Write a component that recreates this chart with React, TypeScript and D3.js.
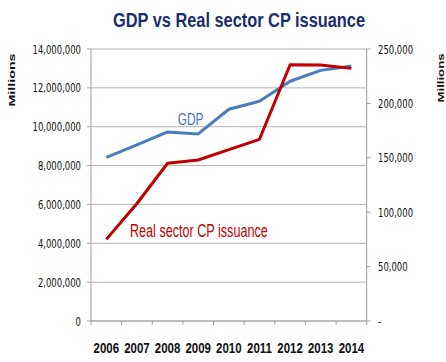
import React from 'react';
import * as d3 from 'd3';

const years = ['2006', '2007', '2008', '2009', '2010', '2011', '2012', '2013', '2014'];
const gdp = [8420000, 9070000, 9730000, 9630000, 10900000, 11310000, 12340000, 12900000, 13130000];
const cp = [75000, 108000, 145000, 148000, 157500, 167000, 235500, 235300, 232200];
const leftTicks = [0, 2000000, 4000000, 6000000, 8000000, 10000000, 12000000, 14000000];
const rightTicks = [0, 50000, 100000, 150000, 200000, 250000];

const W = 446, H = 362;
const FONT = '"Liberation Sans", Arial, sans-serif';
const TFONT = '"DejaVu Sans", Verdana, sans-serif';

function SText({ x, y, sx = 0.77, font = FONT, children, ...rest }: any) {
  return (
    <g transform={`translate(${x},${y}) scale(${sx},1)`}>
      <text x={0} y={0} fontFamily={font} {...rest}>{children}</text>
    </g>
  );
}

export default function App() {
  const left = 91, right = 366.7, top = 49, bottom = 321;
  const x = d3.scaleBand<string>().domain(years).range([left, right]).padding(0);
  const bw = x.bandwidth();
  const cx = (y: string) => (x(y) as number) + bw / 2;
  const yL = d3.scaleLinear().domain([0, 14000000]).range([bottom, top]);
  const yR = d3.scaleLinear().domain([0, 250000]).range([bottom, top]);
  const fmt = d3.format(',');

  const gdpLine = d3.line<number>().x((_, i) => cx(years[i])).y(d => yL(d))(gdp) as string;
  const cpLine = d3.line<number>().x((_, i) => cx(years[i])).y(d => yR(d))(cp) as string;

  const grid = '#b3b3b3';
  const axis = '#a0a0a0';

  return (
    <svg width={W} height={H} style={{ position: 'absolute', left: 0, top: 0, background: '#fff' }}>
      <rect x={0} y={0} width={W} height={H} fill="#fff" />
      <text x={113} y={27} fontFamily={FONT} fontSize={19.5} fontWeight="bold" fill="#1c2e6e"
        textLength={252} lengthAdjust="spacingAndGlyphs">GDP vs Real sector CP issuance</text>

      {leftTicks.map(t => (
        <g key={'l' + t}>
          <line x1={left} x2={right} y1={yL(t)} y2={yL(t)} stroke={grid} strokeWidth={1} />
          <line x1={left - 4} x2={left} y1={yL(t)} y2={yL(t)} stroke={axis} strokeWidth={1} />
          <SText x={81} y={yL(t) + 4.5} sx={0.69} font={TFONT} fontSize={12.3} textAnchor="end" fill="#111">{fmt(t)}</SText>
        </g>
      ))}
      {rightTicks.map(t => (
        <g key={'r' + t}>
          <line x1={right} x2={right + 4} y1={yR(t)} y2={yR(t)} stroke={axis} strokeWidth={1} />
          <SText x={378} y={yR(t) + 4.5} sx={0.69} font={TFONT} fontSize={12.3} textAnchor="start" fill="#111">{t === 0 ? '-' : fmt(t)}</SText>
        </g>
      ))}
      <line x1={left} x2={left} y1={top} y2={bottom} stroke={axis} strokeWidth={1} />
      <line x1={right} x2={right} y1={top} y2={bottom} stroke={axis} strokeWidth={1} />
      <line x1={left} x2={right} y1={bottom} y2={bottom} stroke={axis} strokeWidth={1} />
      {[...years.map(y => x(y) as number), right].map((v, i) => (
        <line key={'xt' + i} x1={v} x2={v} y1={bottom} y2={bottom + 4} stroke={axis} strokeWidth={1} />
      ))}
      {years.map(y => (
        <SText key={'yl' + y} x={cx(y)} y={353} sx={0.74} fontSize={15.5} fontWeight="bold" textAnchor="middle" fill="#111">{y}</SText>
      ))}

      <g transform={`translate(15,80) scale(0.74,1) rotate(-90)`}>
        <text x={0} y={0} fontFamily={FONT} fontSize={13.5} fontWeight="bold" textAnchor="middle" fill="#111"
          textLength={53} lengthAdjust="spacingAndGlyphs">Millions</text>
      </g>
      <g transform={`translate(444,78) scale(0.74,1) rotate(-90)`}>
        <text x={0} y={0} fontFamily={FONT} fontSize={13} fontWeight="bold" textAnchor="middle" fill="#111"
          textLength={49} lengthAdjust="spacingAndGlyphs">Millions</text>
      </g>

      <path d={gdpLine} fill="none" stroke="#4a7ebb" strokeWidth={3} strokeLinejoin="round" />
      <path d={cpLine} fill="none" stroke="#c00000" strokeWidth={3} strokeLinejoin="round" />

      <text x={177.7} y={125} fontFamily={FONT} fontSize={16} fill="#3f74b8"
        textLength={25.6} lengthAdjust="spacingAndGlyphs">GDP</text>
      <text x={130} y={236.7} fontFamily={FONT} fontSize={17.5} fill="#c00000"
        textLength={137.7} lengthAdjust="spacingAndGlyphs">Real sector CP issuance</text>
    </svg>
  );
}
